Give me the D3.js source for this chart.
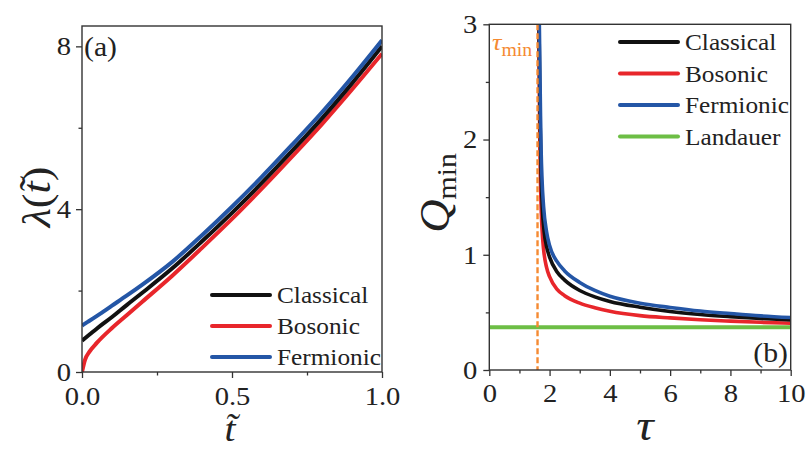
<!DOCTYPE html>
<html>
<head>
<meta charset="utf-8">
<script src="https://cdn.jsdelivr.net/npm/d3@7"></script>
<style>
  html, body { margin: 0; padding: 0; background: #fff; }
  svg { display: block; }
  svg text { font-family: "Liberation Serif", "Times New Roman", serif !important; fill: #222; }
</style>
</head>
<body>
<svg id="chart" width="806" height="450"></svg>
<script>
// ---- panel (a): lambda(t~) for the three statistics ----
const tGrid = [0, 0.01, 0.025, 0.05, 0.1, 0.15, 0.2, 0.3, 0.4, 0.5, 0.6, 0.7, 0.8, 0.9, 1.0];
const lambdaClassical = [0.77, 0.83, 0.92, 1.07, 1.35, 1.65, 1.94, 2.54, 3.21, 3.91, 4.65, 5.43, 6.23, 7.09, 8.00];
const lambdaBosonic   = [0.00, 0.30, 0.50, 0.72, 1.08, 1.40, 1.72, 2.36, 3.05, 3.76, 4.51, 5.29, 6.09, 6.94, 7.82];
const lambdaFermionic = [1.14, 1.19, 1.26, 1.38, 1.63, 1.88, 2.14, 2.70, 3.36, 4.06, 4.80, 5.58, 6.38, 7.24, 8.15];
const aTicksX = [0, 0.5, 1.0], aMinorX = [0.25, 0.75];
const aTicksY = [0, 4, 8], aMinorY = [2, 6];

// ---- panel (b): Q_min(tau) ----
const tauClassical = [1.65, 1.67, 1.69, 1.72, 1.76, 1.82, 1.9, 2.0, 2.25, 2.5, 3.0, 3.5, 4, 5, 6, 7, 8, 9, 10];
const qClassical   = [3.00, 2.50, 2.10, 1.70, 1.40, 1.20, 1.07, 0.98, 0.85, 0.78, 0.69, 0.635, 0.595, 0.545, 0.508, 0.482, 0.463, 0.447, 0.435];
const tauBosonic   = [1.64, 1.66, 1.68, 1.71, 1.75, 1.8, 1.9, 2.0, 2.25, 2.5, 3.0, 3.5, 4, 5, 6, 7, 8, 9, 10];
const qBosonic     = [3.00, 2.40, 1.90, 1.50, 1.22, 1.05, 0.89, 0.81, 0.70, 0.645, 0.58, 0.54, 0.51, 0.472, 0.452, 0.436, 0.424, 0.414, 0.406];
const tauFermionic = [1.66, 1.68, 1.70, 1.72, 1.75, 1.8, 1.9, 2.0, 2.25, 2.5, 3.0, 3.5, 4, 5, 6, 7, 8, 9, 10];
const qFermionic   = [3.00, 2.60, 2.20, 1.90, 1.65, 1.42, 1.20, 1.08, 0.94, 0.86, 0.76, 0.69, 0.64, 0.58, 0.543, 0.512, 0.49, 0.47, 0.455];
const qLandauer = 0.37;
const tauMin = 1.6;
const bTicksX = [0, 2, 4, 6, 8, 10], bMinorX = [1, 3, 5, 7, 9];
const bTicksY = [0, 1, 2, 3], bMinorY = [0.5, 1.5, 2.5];

const seriesNames = ["Classical", "Bosonic", "Fermionic"];
const colors = { Classical: "#111111", Bosonic: "#e8262b", Fermionic: "#2456a6", Landauer: "#6dbe45" };
const orange = "#f58a32";
const frameColor = "#333";
const SERIF = "'Liberation Serif', 'Times New Roman', serif";
const SX = 1.1; // horizontal stretch of the serif lettering

const svg = d3.select("#chart");

function label(g, x, y, opts) {
  const t = g.append("text")
    .attr("transform", `translate(${x},${y})` + (opts.rotate ? ` rotate(${opts.rotate})` : "") + ` scale(${SX},1)`)
    .attr("font-size", opts.size)
    .attr("text-anchor", opts.anchor || "start")
    .style("font-family", SERIF);
  if (opts.fill) t.style("fill", opts.fill);
  (opts.parts || [{ text: opts.text }]).forEach(p => {
    const s = t.append("tspan").text(p.text);
    if (p.italic) s.attr("font-style", "italic");
    if (p.size) s.attr("font-size", p.size);
    if (p.dy) s.attr("dy", p.dy);
  });
  return t;
}

function axes(g, x, y, tx, mx, ty, my, fmtX, fmtY, padX, padY) {
  const [x0, x1] = x.range(), [y0, y1] = y.range();
  const ax = g.append("g").attr("transform", `translate(0,${y0})`)
    .call(d3.axisBottom(x).tickValues(tx).tickSize(6).tickPadding(padX).tickFormat(fmtX));
  g.append("g").attr("transform", `translate(0,${y0})`)
    .call(d3.axisBottom(x).tickValues(mx).tickSize(3.5).tickFormat(""));
  const ay = g.append("g").attr("transform", `translate(${x0},0)`)
    .call(d3.axisLeft(y).tickValues(ty).tickSize(6).tickPadding(padY).tickFormat(fmtY));
  g.append("g").attr("transform", `translate(${x0},0)`)
    .call(d3.axisLeft(y).tickValues(my).tickSize(3.5).tickFormat(""));
  g.selectAll(".domain").remove();
  g.selectAll("g").attr("font-family", null);
  g.selectAll(".tick line").attr("stroke", frameColor).attr("stroke-width", 1.3);
  [ax, ay].forEach(a => a.selectAll("text")
    .attr("font-size", 26)
    .style("font-family", SERIF)
    .style("fill", "#222")
    .attr("transform", `scale(${SX},1)`));
  g.append("rect")
    .attr("x", x0).attr("y", y1).attr("width", x1 - x0).attr("height", y0 - y1)
    .attr("fill", "none").attr("stroke", frameColor).attr("stroke-width", 1.4);
}

function legend(g, x, y0, step, names) {
  names.forEach((n, i) => {
    const y = y0 + i * step;
    g.append("line").attr("x1", x).attr("x2", x + 58).attr("y1", y).attr("y2", y)
      .attr("stroke", colors[n]).attr("stroke-width", 4).attr("stroke-linecap", "round");
    label(g, x + 65, y + 8, { text: n, size: 23 });
  });
}

// ---------- panel (a) ----------
{
  const g = svg.append("g");
  const x = d3.scaleLinear().domain([0, 1]).range([82, 382]);
  const y = d3.scaleLinear().domain([0, 8.5]).range([372, 26]);
  g.append("clipPath").attr("id", "clipA").append("rect")
    .attr("x", 82).attr("y", 26).attr("width", 300).attr("height", 346);
  const line = d3.line().x(d => x(d[0])).y(d => y(d[1])).curve(d3.curveMonotoneX);
  const data = {
    Classical: tGrid.map((t, i) => [t, lambdaClassical[i]]),
    Bosonic: tGrid.map((t, i) => [t, lambdaBosonic[i]]),
    Fermionic: tGrid.map((t, i) => [t, lambdaFermionic[i]])
  };
  ["Bosonic", "Classical", "Fermionic"].forEach(n => {
    g.append("path").attr("d", line(data[n])).attr("clip-path", "url(#clipA)")
      .attr("fill", "none").attr("stroke", colors[n]).attr("stroke-width", 4);
  });
  axes(g, x, y, aTicksX, aMinorX, aTicksY, aMinorY, d3.format(".1f"), d3.format("d"), 9, 4);
  legend(g, 212, 295, 31, seriesNames);
  label(g, 84, 56, { text: "(a)", size: 27 });
  // y title: λ(t~)
  label(g, 50, 197, { rotate: -90, size: 40, anchor: "middle",
    parts: [{ text: "λ", italic: true }, { text: "(" }, { text: "t\u0303", italic: true }, { text: ")" }] });
  // x title: t~
  label(g, 230, 441, { size: 36, anchor: "middle", parts: [{ text: "t\u0303", italic: true }] });
}

// ---------- panel (b) ----------
{
  const g = svg.append("g");
  const x = d3.scaleLinear().domain([0, 10]).range([489.3, 790.7]);
  const y = d3.scaleLinear().domain([0, 3]).range([370, 24.3]);
  g.append("clipPath").attr("id", "clipB").append("rect")
    .attr("x", 489.3).attr("y", 24.3).attr("width", 301.4).attr("height", 345.7);
  const line = d3.line().x(d => x(d[0])).y(d => y(d[1])).curve(d3.curveMonotoneX);
  g.append("line").attr("x1", x(0)).attr("x2", x(10)).attr("y1", y(qLandauer)).attr("y2", y(qLandauer))
    .attr("stroke", colors.Landauer).attr("stroke-width", 4);
  const data = {
    Classical: tauClassical.map((t, i) => [t, qClassical[i]]),
    Bosonic: tauBosonic.map((t, i) => [t, qBosonic[i]]),
    Fermionic: tauFermionic.map((t, i) => [t, qFermionic[i]])
  };
  ["Bosonic", "Classical", "Fermionic"].forEach(n => {
    g.append("path").attr("d", line(data[n])).attr("clip-path", "url(#clipB)")
      .attr("fill", "none").attr("stroke", colors[n]).attr("stroke-width", 3.6);
  });
  g.append("line").attr("x1", x(tauMin)).attr("x2", x(tauMin)).attr("y1", y(3)).attr("y2", y(0))
    .attr("stroke", orange).attr("stroke-width", 2.4).attr("stroke-dasharray", "6,3");
  axes(g, x, y, bTicksX, bMinorX, bTicksY, bMinorY, d3.format("d"), d3.format("d"), 8, 5);
  legend(g, 620, 42, 31.5, ["Classical", "Bosonic", "Fermionic", "Landauer"]);
  label(g, 788, 362, { text: "(b)", size: 27, anchor: "end" });
  label(g, 492, 50, { size: 24, fill: orange,
    parts: [{ text: "τ", italic: true }, { text: "min", size: 18, dy: 6 }] });
  // y title: Q_min
  label(g, 449, 193, { rotate: -90, size: 42, anchor: "middle",
    parts: [{ text: "Q", italic: true }, { text: "min", size: 27, dy: 7 }] });
  // x title: τ
  label(g, 645, 440, { size: 44, anchor: "middle", parts: [{ text: "τ", italic: true }] });
}
</script>
</body>
</html>
